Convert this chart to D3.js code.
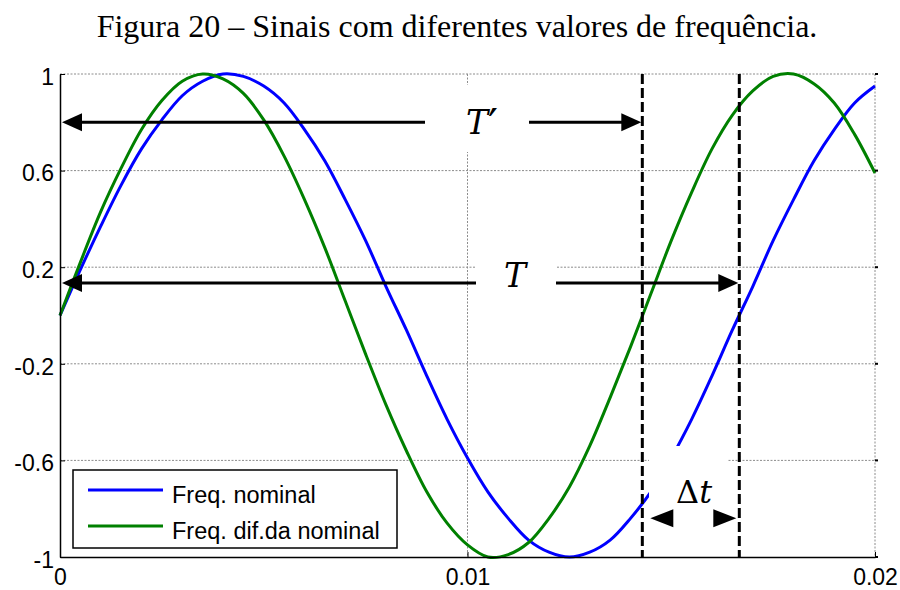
<!DOCTYPE html>
<html>
<head>
<meta charset="utf-8">
<script src="https://cdn.jsdelivr.net/npm/d3@7/dist/d3.min.js"></script>
<style>
  html, body { margin: 0; padding: 0; background: #fff; }
  svg { display: block; }
</style>
</head>
<body>
<svg id="chart" width="900" height="590"></svg>
<script>
// Sample instants (s)
const sampleTimes = [
  0, 0.0005, 0.001, 0.0015, 0.002, 0.0025, 0.003, 0.0035, 0.004, 0.0045,
  0.005, 0.0055, 0.006, 0.0065, 0.007, 0.0075, 0.008, 0.0085, 0.009, 0.0095,
  0.01, 0.0105, 0.011, 0.0115, 0.012, 0.0125, 0.013, 0.0135, 0.014, 0.0145,
  0.015, 0.0155, 0.016, 0.0165, 0.017, 0.0175, 0.018, 0.0185, 0.019, 0.0195, 0.02
];
// Signal at nominal frequency
const nominalValues = [
  0.00, 0.19, 0.37, 0.54, 0.69, 0.81, 0.91, 0.97, 1.00, 0.99,
  0.95, 0.88, 0.77, 0.64, 0.48, 0.31, 0.12, -0.06, -0.25, -0.43,
  -0.59, -0.73, -0.84, -0.93, -0.98, -1.00, -0.98, -0.93, -0.84, -0.73,
  -0.59, -0.43, -0.25, -0.06, 0.12, 0.31, 0.48, 0.64, 0.77, 0.88, 0.95
];
// Signal at a different frequency
const offNominalValues = [
  0.00, 0.22, 0.43, 0.61, 0.77, 0.89, 0.97, 1.00, 0.98, 0.92,
  0.81, 0.66, 0.48, 0.28, 0.06, -0.16, -0.37, -0.56, -0.73, -0.86,
  -0.95, -1.00, -0.99, -0.94, -0.84, -0.71, -0.54, -0.34, -0.13, 0.09,
  0.31, 0.51, 0.69, 0.83, 0.93, 0.99, 1.00, 0.96, 0.88, 0.75, 0.59
];
const seriesNames = ["Freq. nominal", "Freq. dif.da nominal"];
const seriesColors = ["#0000ff", "#008000"];

const xTickValues = [0, 0.01, 0.02];
const xTickLabels = ["0", "0.01", "0.02"];
const yTickValues = [1, 0.6, 0.2, -0.2, -0.6, -1];
const yTickLabels = ["1", "0.6", "0.2", "-0.2", "-0.6", "-1"];

// Periods marked on the chart (s)
const periodOffNominal = 0.01429;
const periodNominal = 0.01667;

const titleText = "Figura 20 – Sinais com diferentes valores de frequência.";

const svg = d3.select("#chart");
const plotLeft = 60, plotRight = 875, plotTop = 74, plotBottom = 557;

const x = d3.scaleLinear().domain([0, 0.02]).range([plotLeft, plotRight]);
const y = d3.scaleLinear().domain([-1, 1]).range([plotBottom, plotTop]);

// Title
svg.append("text")
  .attr("x", 457).attr("y", 37)
  .attr("text-anchor", "middle")
  .attr("font-family", "'Liberation Serif', 'Times New Roman', serif")
  .attr("font-size", 32)
  .attr("fill", "#000")
  .text(titleText);

// Grid
const gridStyle = g => g.attr("stroke", "#8c8c8c").attr("stroke-width", 1).attr("stroke-dasharray", "2,1.5").attr("fill", "none");
const grid = svg.append("g");
grid.selectAll("line.h").data(yTickValues.filter(v => v !== -1)).join("line")
  .attr("class", "h")
  .attr("x1", plotLeft).attr("x2", plotRight)
  .attr("y1", d => y(d)).attr("y2", d => y(d))
  .call(gridStyle);
grid.selectAll("line.v").data(xTickValues.filter(v => v !== 0)).join("line")
  .attr("class", "v")
  .attr("x1", d => x(d)).attr("x2", d => x(d))
  .attr("y1", plotTop).attr("y2", plotBottom)
  .call(gridStyle);

// Curves
const points = vals => sampleTimes.map((t, i) => [t, vals[i]]);
const line = d3.line()
  .x(d => x(d[0])).y(d => y(d[1]))
  .curve(d3.curveCatmullRom);
[nominalValues, offNominalValues].forEach((vals, i) => {
  svg.append("path")
    .datum(points(vals))
    .attr("d", line)
    .attr("fill", "none")
    .attr("stroke", seriesColors[i])
    .attr("stroke-width", 3)
    .attr("stroke-linejoin", "round");
});

// Axes
const yAxis = d3.axisLeft(y)
  .tickValues(yTickValues)
  .tickFormat((d, i) => yTickLabels[i])
  .tickSizeInner(-5).tickSizeOuter(0).tickPadding(6);
const xAxis = d3.axisBottom(x)
  .tickValues(xTickValues)
  .tickFormat((d, i) => xTickLabels[i])
  .tickSizeInner(-5).tickSizeOuter(0).tickPadding(12);

const gy = svg.append("g").attr("transform", `translate(${plotLeft},0)`).call(yAxis);
const gx = svg.append("g").attr("transform", `translate(0,${plotBottom})`).call(xAxis);
[gy, gx].forEach(g => {
  g.select(".domain").attr("stroke", "#000").attr("stroke-width", 1.5);
  g.selectAll(".tick line").attr("stroke", "#000").attr("stroke-width", 1);
  g.selectAll("text")
    .attr("font-family", "'Liberation Sans', Arial, Helvetica, sans-serif")
    .attr("font-size", 23)
    .attr("fill", "#000");
});
gy.selectAll("text").attr("dy", "0.45em");

// Short marks on the right border
svg.append("g").selectAll("line").data(yTickValues).join("line")
  .attr("x1", plotRight).attr("x2", plotRight + 3)
  .attr("y1", d => y(d)).attr("y2", d => y(d))
  .attr("stroke", "#000").attr("stroke-width", 2);

// Period arrows (shafts)
const arrowOffY = 0.8;
const arrowNomY = 0.135;
const dtArrowY = -0.84;
const shafts = svg.append("g").attr("stroke", "#000").attr("stroke-width", 3);
shafts.append("line")
  .attr("x1", x(0) + 10).attr("x2", x(periodOffNominal) - 10)
  .attr("y1", y(arrowOffY)).attr("y2", y(arrowOffY));
shafts.append("line")
  .attr("x1", x(0) + 10).attr("x2", x(periodNominal) - 10)
  .attr("y1", y(arrowNomY)).attr("y2", y(arrowNomY));

// White boxes behind labels
const boxes = [
  [425, 85, 104, 67],
  [476, 248, 80, 52],
  [649, 446, 79, 60]
];
svg.append("g").selectAll("rect").data(boxes).join("rect")
  .attr("x", d => d[0]).attr("y", d => d[1])
  .attr("width", d => d[2]).attr("height", d => d[3])
  .attr("fill", "#fff");

// Dashed period markers
svg.append("g").selectAll("line").data([periodOffNominal, periodNominal]).join("line")
  .attr("x1", d => x(d)).attr("x2", d => x(d))
  .attr("y1", plotTop).attr("y2", plotBottom)
  .attr("stroke", "#000").attr("stroke-width", 3)
  .attr("stroke-dasharray", "10,4");

// Arrow heads
function head(tipX, tipY, dir, len = 20, half = 9) {
  const bx = tipX - dir * len;
  return `M${tipX},${tipY}L${bx},${tipY - half}L${bx},${tipY + half}Z`;
}
const heads = svg.append("g").attr("fill", "#000");
heads.append("path").attr("d", head(x(0) + 2, y(arrowOffY), -1));
heads.append("path").attr("d", head(x(periodOffNominal) - 1, y(arrowOffY), 1));
heads.append("path").attr("d", head(x(0) + 2, y(arrowNomY), -1));
heads.append("path").attr("d", head(x(periodNominal) - 1, y(arrowNomY), 1));
heads.append("path").attr("d", head(x(periodOffNominal) + 8, y(dtArrowY), -1, 23, 9));
heads.append("path").attr("d", head(x(periodNominal) - 3, y(dtArrowY), 1, 23, 9));

// Annotation labels
const mathFont = "'DejaVu Serif', 'Liberation Serif', serif";
const lbl = svg.append("g").attr("font-family", mathFont).attr("fill", "#000");
const tPrime = lbl.append("text").attr("x", 482).attr("y", 134).attr("text-anchor", "middle")
  .attr("font-size", 33);
tPrime.append("tspan").attr("font-style", "italic").text("T");
tPrime.append("tspan").attr("font-family", "'DejaVu Sans', sans-serif")
  .attr("font-size", 44).attr("dx", 0).attr("dy", 7).text("′");
lbl.append("text").attr("x", 515).attr("y", 287).attr("text-anchor", "middle")
  .attr("font-size", 33).attr("font-style", "italic").text("T");
const dt = lbl.append("text").attr("x", 694).attr("y", 503).attr("text-anchor", "middle")
  .attr("font-size", 32);
dt.append("tspan").text("Δ");
dt.append("tspan").attr("font-style", "italic").text("t");

// Legend
const legend = svg.append("g");
legend.append("rect")
  .attr("x", 73).attr("y", 470).attr("width", 324).attr("height", 78)
  .attr("fill", "#fff").attr("stroke", "#000").attr("stroke-width", 1.5);
seriesNames.forEach((name, i) => {
  const ly = 490 + i * 36;
  legend.append("line")
    .attr("x1", 88).attr("x2", 163).attr("y1", ly).attr("y2", ly)
    .attr("stroke", seriesColors[i]).attr("stroke-width", 3);
  legend.append("text")
    .attr("x", 172).attr("y", ly + 13)
    .attr("font-family", "'Liberation Sans', Arial, Helvetica, sans-serif")
    .attr("font-size", 23.5).attr("fill", "#000")
    .text(name);
});
</script>
</body>
</html>
